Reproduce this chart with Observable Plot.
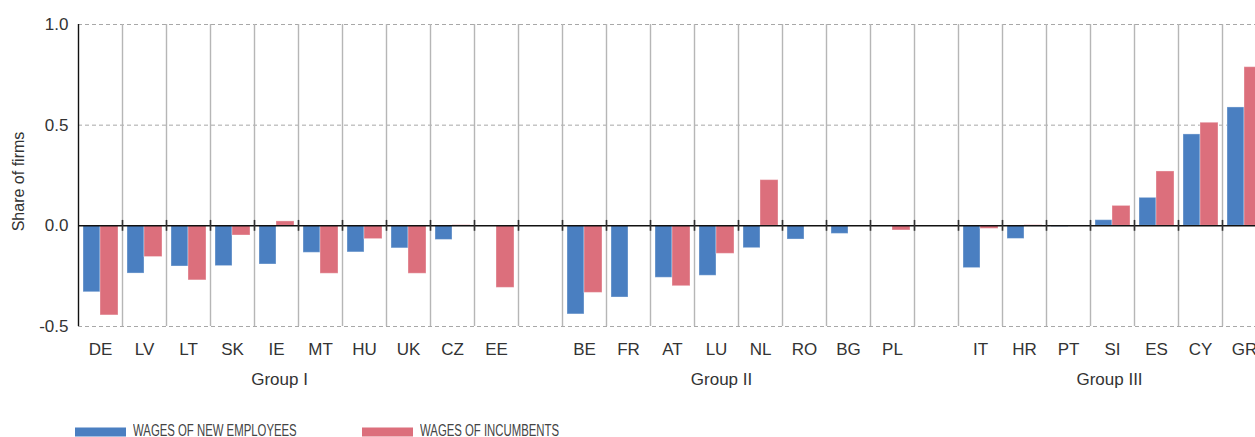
<!DOCTYPE html>
<html>
<head>
<meta charset="utf-8">
<script src="https://cdn.jsdelivr.net/npm/d3@7"></script>
<script src="https://cdn.jsdelivr.net/npm/@observablehq/plot@0.6"></script>
<style>
  html, body { margin: 0; padding: 0; background: #fff; overflow: hidden; width: 1255px; height: 437px; }
  #wrap { position: relative; width: 1266px; height: 437px; }
  #legend { position: absolute; left: 0; top: 422.5px; width: 1255px; height: 16px;
            font-family: "Liberation Sans", Arial, sans-serif; font-size: 16px; color: #444; }
  .item { position: absolute; top: 0; display: flex; align-items: center; height: 16px; white-space: nowrap; }
  .sw { width: 51px; height: 9px; margin-right: 7px; flex: none; transform: translateY(1.5px); }
  .lab { display: inline-block; transform: scaleX(0.71); transform-origin: left center; line-height: 16px; }
</style>
</head>
<body>
<div id="wrap">
  <div id="chart"></div>
  <div id="legend"></div>
</div>
<script>
// ---- data ----
const groupI   = ["DE","LV","LT","SK","IE","MT","HU","UK","CZ","EE"];
const groupII  = ["BE","FR","AT","LU","NL","RO","BG","PL"];
const groupIII = ["IT","HR","PT","SI","ES","CY","GR"];

const newI   = [-0.33, -0.237, -0.202, -0.200, -0.192, -0.134, -0.132, -0.112, -0.070, null];
const incI   = [-0.445, -0.155, -0.271, -0.048, 0.022, -0.238, -0.066, -0.238, 0.003, -0.308];
const newII  = [-0.440, -0.356, -0.258, -0.248, -0.111, -0.068, -0.040, null];
const incII  = [-0.333, null, -0.300, -0.139, 0.227, null, null, -0.023];
const newIII = [-0.210, -0.065, -0.005, 0.028, 0.139, 0.454, 0.588];
const incIII = [-0.015, 0.003, null, 0.099, 0.270, 0.512, 0.788];

const seriesNames = ["WAGES OF NEW EMPLOYEES", "WAGES OF INCUMBENTS"];
const seriesColors = ["#4a7fc1", "#dc6f7c"];

const groupLabels = ["Group I", "Group II", "Group III"];
const groupAnchors = ["IE", "LU", "SI"];
const groupDx = [3, 5, -3];

const yTicks = [-0.5, 0, 0.5, 1.0];
const yTitle = "Share of firms";

// ---- build table ----
const slots = [...groupI, "gap1", ...groupII, "gap2", ...groupIII];
const countries = [...groupI, ...groupII, ...groupIII];
const newVals = [...newI, ...newII, ...newIII];
const incVals = [...incI, ...incII, ...incIII];
const newData = countries.map((c, i) => ({country: c, value: newVals[i]})).filter(d => d.value != null);
const incData = countries.map((c, i) => ({country: c, value: incVals[i]})).filter(d => d.value != null);

const band = 44;
const boundaries = slots.slice(1);

const groupMarks = groupLabels.map((g, i) =>
  Plot.text([g], {x: () => groupAnchors[i], text: d => d, frameAnchor: "bottom", lineAnchor: "middle",
    dy: 53, dx: groupDx[i], fontSize: 17, fill: "#333"}));

const chart = Plot.plot({
  width: 78 + band * slots.length,
  height: 415,
  marginLeft: 78,
  marginRight: 0,
  marginTop: 24,
  marginBottom: 89,
  style: {fontFamily: "'Liberation Sans', Arial, Helvetica, sans-serif", fontSize: "16px", color: "#333", background: "#fff"},
  x: {domain: slots, padding: 0, label: null},
  y: {domain: [-0.5, 1.0], label: null},
  marks: [
    Plot.ruleY([1.0, 0.5, -0.5], {stroke: "#a8a8a8", strokeDasharray: "4,3", strokeWidth: 1}),
    Plot.ruleX(boundaries, {x: d => d, dx: -band / 2, y1: -0.5, y2: 1.0, stroke: "#b6b6b6", strokeWidth: 1.4}),
    Plot.barY(newData, {x: "country", y: "value", fill: seriesColors[0], insetLeft: 5, insetRight: 22,
      stroke: "#ffffff", strokeOpacity: 0.35, strokeWidth: 1}),
    Plot.barY(incData, {x: "country", y: "value", fill: seriesColors[1], insetLeft: 22, insetRight: 4,
      stroke: "#ffffff", strokeOpacity: 0.35, strokeWidth: 1}),
    Plot.ruleY([0], {stroke: "#111", strokeWidth: 1.5}),
    Plot.ruleX(boundaries, {x: d => d, dx: -band / 2, y1: -0.027, y2: 0.027, stroke: "#333", strokeWidth: 1.6}),
    Plot.ruleX([slots[0]], {x: d => d, dx: -band / 2, y1: -0.5, y2: 1.0, stroke: "#111", strokeWidth: 1.4}),
    Plot.axisX({tickSize: 0, tickPadding: 16, fontSize: 17, fill: "#333",
      tickFormat: d => d.startsWith("gap") ? "" : d, label: null}),
    Plot.axisY({ticks: yTicks, tickFormat: d => d.toFixed(1), tickSize: 0, tickPadding: 10, fontSize: 17, fill: "#333",
      label: null}),
    Plot.text([yTitle], {text: d => d, frameAnchor: "left", textAnchor: "middle", lineAnchor: "middle",
      rotate: -90, dx: -60, dy: 6, fontSize: 16, fill: "#333"}),
    ...groupMarks
  ]
});
document.getElementById("chart").appendChild(chart);

// legend
const legend = document.getElementById("legend");
const lefts = [75, 362];
seriesNames.forEach((name, i) => {
  const item = document.createElement("div");
  item.className = "item";
  item.style.left = lefts[i] + "px";
  item.innerHTML = `<span class="sw" style="background:${seriesColors[i]}"></span><span class="lab">${name}</span>`;
  legend.appendChild(item);
});
</script>
</body>
</html>
